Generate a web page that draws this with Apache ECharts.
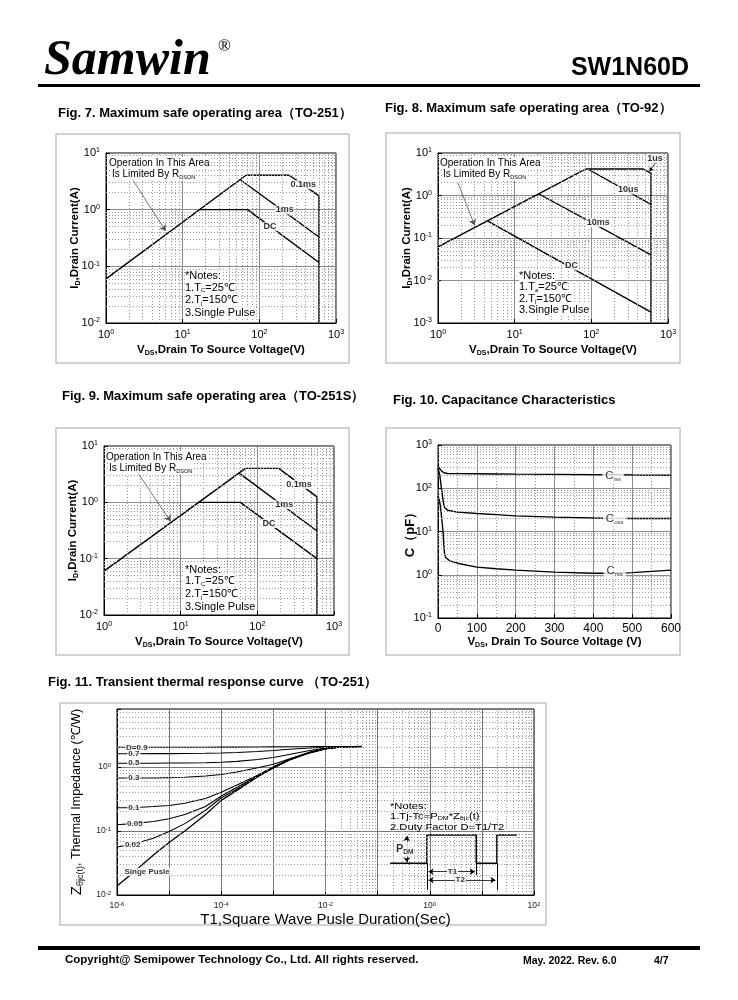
<!DOCTYPE html>
<html><head><meta charset="utf-8">
<script src="https://cdn.jsdelivr.net/npm/echarts@6/dist/echarts.min.js"></script>
<style>html,body{margin:0;padding:0;background:#fff}#c{width:738px;height:1000px}</style>
</head><body><div id="c"></div>
<script>
const FONT = '"Liberation Sans", Arial, Helvetica, sans-serif';
const SERIF = '"Liberation Serif", "Times New Roman", serif';

// ---------- Fig 7 (TO-251) ----------
const fig7Rdson = [[1, 0.06], [67, 4.05]];
const fig7P01ms = [[67, 4.05], [245, 4.05], [600, 1.75], [600, 0.01]];
const fig7P1ms = [[56, 3.4], [600, 0.33]];
const fig7Dc = [[16.5, 1.0], [70, 1.0], [600, 0.117]];
const fig7Labels = [['0.1ms', 375, 2.75], ['1ms', 215, 0.99], ['DC', 138, 0.5]];
const fig7Arrow = [[2.25, 3.3], [6.0, 0.42]];

// ---------- Fig 8 (TO-92) ----------
const fig8Rdson = [[1, 0.062], [84, 4.2]];
const fig8P1us = [[84, 4.2], [475, 4.2], [600, 3.3], [600, 0.001]];
const fig8P10us = [[90, 4.2], [600, 0.62]];
const fig8P10ms = [[20.5, 1.1], [600, 0.04]];
const fig8Dc = [[4.4, 0.254], [600, 0.0018]];
const fig8Labels = [['1us', 675, 7.5], ['10us', 303, 1.35], ['10ms', 123, 0.23], ['DC', 55, 0.022]];
const fig8Arrow = [[1.82, 1.97], [3.0, 0.2]];
const fig8Pointer = [[690, 6.0], [575, 3.7]];

// ---------- Fig 9 (TO-251S) ----------
const fig9Rdson = [[1, 0.06], [70, 4.0]];
const fig9P01ms = [[70, 4.0], [190, 4.0], [600, 1.25], [600, 0.01]];
const fig9P1ms = [[58, 3.3], [600, 0.31]];
const fig9Dc = [[17, 1.0], [60, 1.0], [600, 0.1]];
const fig9Labels = [['0.1ms', 350, 2.07], ['1ms', 224, 0.91], ['DC', 142, 0.42]];
const fig9Arrow = [[2.77, 3.3], [7.4, 0.46]];

// ---------- Fig 10 capacitance ----------
const capVds = [0, 2, 5, 8, 10, 13, 15, 17, 20, 25, 30, 50, 100, 150, 200, 300, 400, 450, 500, 600];
const ciss = [325, 305, 280, 255, 245, 232, 228, 225, 222, 220, 219, 218, 216, 214, 212, 209, 206, 205, 203, 200];
const coss = [300, 270, 190, 115, 85, 53, 42, 36, 33, 31, 29.5, 28, 26, 24.5, 23, 21.5, 20.5, 20.2, 20, 20];
const crss = [65, 58, 45, 28, 18, 10, 5, 3, 2.5, 2.25, 2.1, 1.85, 1.5, 1.38, 1.28, 1.15, 1.08, 1.08, 1.12, 1.28];
const capLabels = [['{c|C}{s|iss}', 451, 196], ['{c|C}{s|oss}', 455, 19.4], ['{c|C}{s|rss}', 455, 1.21]];

// ---------- Fig 11 transient thermal ----------
const t1 = [1e-6, 2e-6, 5e-6, 1e-5, 2e-5, 5e-5, 1e-4, 2e-4, 5e-4, 1e-3, 2e-3, 5e-3, 1e-2, 2e-2, 5e-2];
const zD09 = [2.02, 2.02, 2.02, 2.02, 2.02, 2.02, 2.03, 2.03, 2.04, 2.05, 2.06, 2.07, 2.08, 2.08, 2.08];
const zD07 = [1.60, 1.60, 1.61, 1.61, 1.62, 1.63, 1.65, 1.68, 1.74, 1.80, 1.88, 1.97, 2.03, 2.07, 2.08];
const zD05 = [1.14, 1.14, 1.14, 1.15, 1.15, 1.16, 1.18, 1.22, 1.30, 1.40, 1.56, 1.80, 1.96, 2.06, 2.08];
const zD03 = [0.67, 0.67, 0.67, 0.68, 0.69, 0.72, 0.76, 0.83, 0.97, 1.10, 1.33, 1.70, 1.93, 2.05, 2.08];
const zD01 = [0.23, 0.23, 0.24, 0.25, 0.27, 0.32, 0.40, 0.52, 0.74, 1.00, 1.30, 1.68, 1.92, 2.05, 2.08];
const zD005 = [0.125, 0.13, 0.14, 0.155, 0.18, 0.24, 0.35, 0.48, 0.72, 0.98, 1.29, 1.67, 1.92, 2.05, 2.08];
const zD002 = [0.056, 0.062, 0.077, 0.098, 0.13, 0.21, 0.33, 0.45, 0.71, 0.97, 1.28, 1.67, 1.92, 2.05, 2.08];
const zSingle = [0.0138, 0.022, 0.042, 0.066, 0.10, 0.18, 0.30, 0.43, 0.70, 0.96, 1.27, 1.66, 1.91, 2.05, 2.08];
const dLabels = [['D=0.9', 2.4e-6, 2.02], ['0.7', 2.1e-6, 1.60], ['0.5', 2.1e-6, 1.14], ['0.3', 2.1e-6, 0.67],
                 ['0.1', 2.1e-6, 0.23], ['0.05', 2.2e-6, 0.127], ['0.02', 2.0e-6, 0.06]];
const singleLabel = [['Singe Pusle', 1.3e-6, 0.023]];
// pulse schematic (annotation) in data coordinates
const pulseWave = [[0.174, 0.0313], [0.88, 0.0313], [0.88, 0.0866], [7.8, 0.0866], [7.8, 0.0313], [19.4, 0.0313], [19.4, 0.0866], [47, 0.0866]];
const pulseExt = [[[0.88, 0.0313], [0.88, 0.012]], [[7.8, 0.0313], [7.8, 0.0205]], [[19.4, 0.0313], [19.4, 0.012]]];
const pulseT1 = [[0.95, 0.0231], [7.3, 0.0231]];
const pulseT2 = [[0.95, 0.0171], [18.2, 0.0171]];
const pulsePdm = [[0.363, 0.083], [0.363, 0.0325]];
const pulseLabels = [['T1', 2.73, 0.0231], ['T2', 3.84, 0.0171]];
const pdmLabel = [['{p|P}{s|DM}', 0.33, 0.052]];

// ---------- helpers ----------
function powFmt(v) {
  const e = Math.log10(v), r = Math.round(e);
  if (Math.abs(e - r) > 1e-6) return '';
  return '{b|10}{s|' + r + '}';
}
function powFmtEven(v) {
  const e = Math.log10(v), r = Math.round(e);
  if (Math.abs(e - r) > 1e-6 || r % 2 !== 0) return '';
  return '{b|10}{s|' + r + '}';
}
function supRich(size, color) {
  return {
    b: {fontSize: size, fontFamily: FONT, color: color || '#000', lineHeight: size + 1},
    s: {fontSize: Math.round(size * 0.65), fontFamily: FONT, color: color || '#000', verticalAlign: 'top', lineHeight: Math.round(size * 0.6)}
  };
}
function minorVals(e0, e1, maxV) {
  const out = [];
  for (let e = e0; e < e1; e++) for (let k = 2; k <= 9; k++) {
    const v = +(k * Math.pow(10, e)).toPrecision(6);
    if (!maxV || v < maxV * 0.999) out.push(v);
  }
  return out;
}
function logAxis(gi, min, max, extra) {
  return Object.assign({
    type: 'log', logBase: 10, gridIndex: gi, min: min, max: max, splitNumber: 10,
    axisLine: {show: true, onZero: false, lineStyle: {color: '#000', width: 1}},
    axisTick: {show: true, inside: true, length: 4, lineStyle: {color: '#000'}},
    splitLine: {show: true, lineStyle: {color: '#8c8c8c', width: 1}},
    axisLabel: {formatter: powFmt, rich: supRich(11), margin: 6}
  }, extra || {});
}
function curve(gi, data, w) {
  return {type: 'line', xAxisIndex: gi, yAxisIndex: gi, data: data, symbol: 'none', showSymbol: false, silent: true, z: 3,
    lineStyle: {color: '#000', width: w || 1.4}};
}
function labels(gi, items, lab, z) {
  return {type: 'scatter', xAxisIndex: gi, yAxisIndex: gi, silent: true, z: z || 6, symbolSize: 1,
    itemStyle: {color: 'rgba(0,0,0,0)'},
    data: items.map(it => ({name: it[0], value: [it[1], it[2]]})),
    label: Object.assign({show: true, position: 'inside', formatter: p => p.name, color: '#000', fontFamily: FONT,
      fontWeight: 'bold', fontSize: 9, backgroundColor: '#fff', padding: [0, 1]}, lab || {})};
}
function gridLines(gi, xs, ys, anchor) {
  return {type: 'line', xAxisIndex: gi, yAxisIndex: gi, silent: true, z: 1, data: [anchor], symbol: 'none', showSymbol: false,
    lineStyle: {opacity: 0},
    markLine: {silent: true, symbol: ['none', 'none'], animation: false, label: {show: false},
      lineStyle: {type: [1, 2], color: '#9a9a9a', width: 1},
      data: xs.map(v => ({xAxis: v})).concat(ys.map(v => ({yAxis: v})))}};
}
function arrows(gi, segs, sym, color, width, size) {
  return {type: 'line', xAxisIndex: gi, yAxisIndex: gi, silent: true, z: 4, data: [], symbol: 'none',
    markLine: {silent: true, animation: false, symbol: sym, symbolSize: size || 6, label: {show: false},
      lineStyle: {type: 'solid', color: color || '#444', width: width || 0.8},
      data: segs.map(s => [{coord: s[0]}, {coord: s[1]}])}};
}

const sx = {b: {fontSize: 11.5, fontWeight: 'bold', fontFamily: FONT, color: '#000', lineHeight: 14},
            s: {fontSize: 7, fontWeight: 'bold', fontFamily: FONT, color: '#000', verticalAlign: 'bottom', lineHeight: 8}};
const vdsName = '{b|V}{s|DS}{b|,Drain To Source Voltage(V)}';
const idName = '{b|I}{s|D}{b|,Drain Current(A)}';

const grids = [
  {left: 106, top: 153, width: 230, height: 170},
  {left: 438, top: 153, width: 230, height: 170},
  {left: 104, top: 446, width: 230, height: 169},
  {left: 438, top: 445, width: 233, height: 173},
  {left: 117, top: 709, width: 417, height: 186}
].map(g => Object.assign({show: true, borderColor: '#000', borderWidth: 1, containLabel: false}, g));

const xAxes = [
  logAxis(0, 1, 1000, {name: vdsName, nameLocation: 'middle', nameGap: 20, nameTextStyle: {rich: sx}}),
  logAxis(1, 1, 1000, {name: vdsName, nameLocation: 'middle', nameGap: 20, nameTextStyle: {rich: sx}}),
  logAxis(2, 1, 1000, {name: vdsName, nameLocation: 'middle', nameGap: 20, nameTextStyle: {rich: sx}}),
  {type: 'value', gridIndex: 3, min: 0, max: 600, interval: 100,
    name: '{b|V}{s|DS}{b|, Drain To Source Voltage (V)}', nameLocation: 'middle', nameGap: 17, nameTextStyle: {rich: sx},
    axisLine: {show: true, onZero: false, lineStyle: {color: '#000'}},
    axisTick: {show: true, inside: true, length: 4, lineStyle: {color: '#000'}},
    splitLine: {show: true, lineStyle: {color: '#8c8c8c'}},
    minorTick: {show: false, splitNumber: 2},
    minorSplitLine: {show: true, lineStyle: {color: '#9a9a9a', type: [1, 2]}},
    axisLabel: {fontSize: 12, fontFamily: FONT, color: '#000', margin: 5}},
  logAxis(4, 1e-6, 100, {name: 'T1,Square Wave Pusle Duration(Sec)', nameLocation: 'middle', nameGap: 17,
    nameTextStyle: {fontSize: 15, fontFamily: FONT, color: '#000'},
    axisLabel: {formatter: powFmtEven, rich: supRich(8.5, '#222'), margin: 6},
    splitLine: {show: true, lineStyle: {color: '#777', width: 1}}})
];
const yAxes = [
  logAxis(0, 0.01, 10, {name: idName, nameLocation: 'middle', nameGap: 24, nameMoveOverlap: false, nameRotate: 90, nameTextStyle: {rich: sx}}),
  logAxis(1, 0.001, 10, {name: idName, nameLocation: 'middle', nameGap: 24, nameMoveOverlap: false, nameRotate: 90, nameTextStyle: {rich: sx}}),
  logAxis(2, 0.01, 10, {name: idName, nameLocation: 'middle', nameGap: 24, nameMoveOverlap: false, nameRotate: 90, nameTextStyle: {rich: sx}}),
  logAxis(3, 0.1, 1000, {name: 'C（pF）', nameLocation: 'middle', nameGap: 21, nameMoveOverlap: false, nameRotate: 90,
    nameTextStyle: {fontSize: 13, fontWeight: 'bold', fontFamily: FONT, color: '#000'}}),
  logAxis(4, 0.01, 8, {name: '{z|Z}{s|θjc(t)}{b|, Thermal Impedance (℃/W)}', nameLocation: 'middle', nameGap: 32, nameMoveOverlap: false, nameRotate: 90,
    nameTextStyle: {rich: {z: {fontSize: 15, fontFamily: FONT, color: '#000', lineHeight: 17},
      s: {fontSize: 9, fontFamily: FONT, color: '#000', verticalAlign: 'bottom', lineHeight: 9},
      b: {fontSize: 12.5, fontFamily: FONT, color: '#000', lineHeight: 17}}},
    axisLabel: {formatter: powFmt, rich: supRich(8.5, '#222'), margin: 6},
    splitLine: {show: true, lineStyle: {color: '#777', width: 1}}})
];

const series = [
  gridLines(0, minorVals(0, 3), minorVals(-2, 1), [1, 0.01]),
  gridLines(1, minorVals(0, 3), minorVals(-3, 1), [1, 0.001]),
  gridLines(2, minorVals(0, 3), minorVals(-2, 1), [1, 0.01]),
  gridLines(3, [], minorVals(-1, 3), [0, 0.1]),
  gridLines(4, minorVals(-6, 2), minorVals(-2, 1, 8), [1e-6, 0.01]),
  // fig 7
  curve(0, fig7Rdson), curve(0, fig7P01ms), curve(0, fig7P1ms), curve(0, fig7Dc),
  labels(0, fig7Labels), arrows(0, [fig7Arrow], ['none', 'arrow'], '#555', 0.8, 6),
  // fig 8
  curve(1, fig8Rdson), curve(1, fig8P1us), curve(1, fig8P10us), curve(1, fig8P10ms), curve(1, fig8Dc),
  labels(1, fig8Labels), arrows(1, [fig8Arrow], ['none', 'arrow'], '#555', 0.8, 6),
  arrows(1, [fig8Pointer], ['none', 'arrow'], '#000', 0.8, 4),
  // fig 9
  curve(2, fig9Rdson), curve(2, fig9P01ms), curve(2, fig9P1ms), curve(2, fig9Dc),
  labels(2, fig9Labels), arrows(2, [fig9Arrow], ['none', 'arrow'], '#555', 0.8, 6),
  // fig 10
  curve(3, capVds.map((v, i) => [v, ciss[i]])),
  curve(3, capVds.map((v, i) => [v, coss[i]])),
  curve(3, capVds.map((v, i) => [v, crss[i]])),
  labels(3, capLabels, {fontWeight: 'normal', padding: [0, 3], rich: {
    c: {fontSize: 11.5, fontFamily: FONT, color: '#000', lineHeight: 13},
    s: {fontSize: 6, fontFamily: FONT, color: '#000', verticalAlign: 'bottom', lineHeight: 7}}}),
  // fig 11
  curve(4, t1.map((v, i) => [v, zD09[i]]), 1.1),
  curve(4, t1.map((v, i) => [v, zD07[i]]), 1.1),
  curve(4, t1.map((v, i) => [v, zD05[i]]), 1.1),
  curve(4, t1.map((v, i) => [v, zD03[i]]), 1.1),
  curve(4, t1.map((v, i) => [v, zD01[i]]), 1.1),
  curve(4, t1.map((v, i) => [v, zD005[i]]), 1.1),
  curve(4, t1.map((v, i) => [v, zD002[i]]), 1.1),
  curve(4, t1.map((v, i) => [v, zSingle[i]]), 1.3),
  labels(4, dLabels, {fontSize: 8}),
  labels(4, singleLabel, {fontSize: 8, position: 'right', distance: 0}),
  curve(4, pulseWave, 1.5),
  arrows(4, pulseExt, ['none', 'none'], '#000', 1, 1),
  arrows(4, [pulseT1, pulseT2], ['arrow', 'arrow'], '#000', 0.8, 5),
  arrows(4, [pulsePdm], ['arrow', 'arrow'], '#000', 0.8, 5),
  labels(4, pulseLabels, {fontSize: 8}, 7),
  labels(4, pdmLabel, {padding: [1, 1], rich: {
    p: {fontSize: 11, fontWeight: 'bold', fontFamily: FONT, color: '#000', lineHeight: 13},
    s: {fontSize: 6.5, fontWeight: 'bold', fontFamily: FONT, color: '#000', verticalAlign: 'bottom', lineHeight: 8}}}, 7)
];

// ---------- page graphics ----------
function T(text, x, y, font, opt, extra) {
  return Object.assign({type: 'text', x: x, y: y, z: 10, silent: true,
    style: Object.assign({text: text, font: font, fill: '#000', align: 'left', verticalAlign: 'middle'}, opt || {})}, extra || {});
}
function R(x, y, w, h, opt) {
  return {type: 'rect', silent: true, z: 0, shape: {x: x, y: y, width: w, height: h},
    style: Object.assign({fill: 'none'}, opt && opt.style || {})};
}
const noteRich = {
  n: {fontSize: 11, fontFamily: FONT, color: '#1a1a1a', lineHeight: 12},
  s: {fontSize: 6, fontFamily: FONT, color: '#1a1a1a', verticalAlign: 'bottom', lineHeight: 7}
};
function notes(x, ys, sub) {
  return [
    T('{n|*Notes:}', x, ys[0], '11px ' + FONT, {rich: noteRich, backgroundColor: '#fff'}),
    T('{n|1.T}{s|' + sub + '}{n|=25℃}', x, ys[1], '11px ' + FONT, {rich: noteRich, backgroundColor: '#fff'}),
    T('{n|2.T}{s|j}{n|=150℃}', x, ys[2], '11px ' + FONT, {rich: noteRich, backgroundColor: '#fff'}),
    T('{n|3.Single Pulse}', x, ys[3], '11px ' + FONT, {rich: noteRich, backgroundColor: '#fff'})
  ];
}
const opRich = {
  n: {fontSize: 10, fontFamily: FONT, color: '#333', lineHeight: 12},
  s: {fontSize: 5.5, fontFamily: FONT, color: '#333', verticalAlign: 'bottom', lineHeight: 6}
};
function opText(x, y) {
  return [
    T('{n|Operation In This Area}', x, y, '10px ' + FONT, {rich: opRich, backgroundColor: '#fff'}),
    T('{n|Is Limited By R}{s|DSON}', x + 3, y + 11.5, '10px ' + FONT, {rich: opRich, backgroundColor: '#fff'})
  ];
}
const n11Rich = {
  n: {fontSize: 9.5, fontFamily: FONT, color: '#222', lineHeight: 10},
  s: {fontSize: 6, fontFamily: FONT, color: '#222', verticalAlign: 'bottom', lineHeight: 6}
};
const titleFont = 'bold 13px ' + FONT;
const elements = [
  T('Samwin', 44, 61, 'italic bold 50px ' + SERIF),
  T('®', 218, 47, '17px ' + SERIF),
  T('SW1N60D', 689, 68, 'bold 25px ' + FONT, {align: 'right'}),
  R(38, 84, 662, 3, {style: {fill: '#000'}}),
  T('Fig. 7. Maximum safe operating area（TO-251）', 58, 113, titleFont),
  T('Fig. 8. Maximum safe operating area（TO-92）', 385, 108, titleFont),
  T('Fig. 9. Maximum safe operating area（TO-251S）', 62, 396, titleFont),
  T('Fig. 10. Capacitance Characteristics', 393, 400, titleFont),
  T('Fig. 11. Transient thermal response curve （TO-251）', 48, 682, titleFont),
  R(56, 134, 293, 229, {style: {stroke: '#c4c4c4', lineWidth: 1.5}}),
  R(386, 133, 294, 230, {style: {stroke: '#c4c4c4', lineWidth: 1.5}}),
  R(56, 428, 293, 227, {style: {stroke: '#c4c4c4', lineWidth: 1.5}}),
  R(386, 428, 294, 227, {style: {stroke: '#c4c4c4', lineWidth: 1.5}}),
  R(60, 703, 486, 222, {style: {stroke: '#c4c4c4', lineWidth: 1.5}}),
  R(38, 946, 662, 4, {style: {fill: '#000'}}),
  T('Copyright@ Semipower Technology Co., Ltd. All rights reserved.', 65, 960, 'bold 11.5px ' + FONT),
  T('May. 2022. Rev. 6.0', 523, 961, 'bold 10.5px ' + FONT),
  T('4/7', 654, 961, 'bold 10.5px ' + FONT)
].concat(
  notes(185, [276, 287.5, 300, 312.5], 'C'),
  notes(519, [276, 287, 298.5, 310], 'a'),
  notes(185, [569.5, 581, 594, 606.5], 'C'),
  opText(109, 163), opText(440, 163), opText(106, 457),
  [
    T('{n|*Notes:}', 390, 806, '9.5px ' + FONT, {rich: n11Rich}, {scaleX: 1.18}),
    T('{n|1.Tj-Tc=P}{s|DM}{n|*Z}{s|θjc}{n|(t)}', 390, 816.5, '9.5px ' + FONT, {rich: n11Rich}, {scaleX: 1.18}),
    T('{n|2.Duty Factor D=T1/T2}', 390, 827, '9.5px ' + FONT, {rich: n11Rich}, {scaleX: 1.18})
  ]
);

const chart = echarts.init(document.getElementById('c'), null, {renderer: 'canvas'});
chart.setOption({
  animation: false,
  backgroundColor: '#fff',
  textStyle: {fontFamily: FONT},
  grid: grids,
  xAxis: xAxes,
  yAxis: yAxes,
  series: series,
  graphic: {elements: elements}
});
</script></body></html>
